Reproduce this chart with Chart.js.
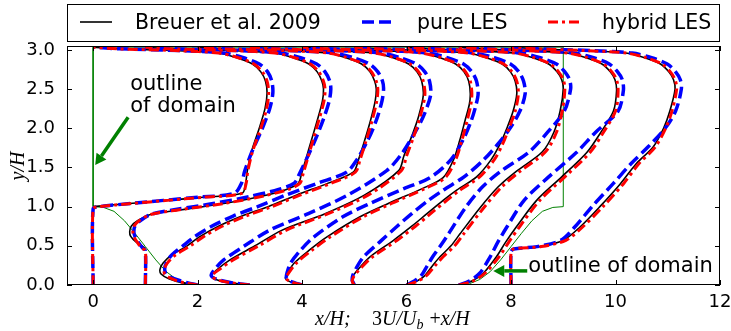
<!DOCTYPE html>
<html>
<head>
<meta charset="utf-8">
<script src="https://cdn.jsdelivr.net/npm/chart.js@4/dist/chart.umd.min.js"></script>
<style>
  html, body { margin: 0; padding: 0; background: #fff; }
  #wrap { width: 731px; height: 331px; }
</style>
</head>
<body>
<div id="wrap"><canvas id="c"></canvas></div>
<script>
// profile stations x/H
const stations = [0, 1, 2, 3, 4, 5, 6, 7, 8];

// y/H levels of each profile
const profileY = [
  [0, 0.97, 1.0, 1.04, 1.08, 1.12, 1.17, 1.3, 1.45, 1.7, 2.0, 2.25, 2.45, 2.6, 2.72, 2.82, 2.9, 2.96, 2.99, 3.015, 3.035],
  [0, 0.44, 0.47, 0.55, 0.62, 0.68, 0.75, 0.82, 0.9, 0.96, 1.04, 1.13, 1.22, 1.3, 1.42, 1.6, 1.85, 2.1, 2.35, 2.5, 2.6, 2.72, 2.82, 2.9, 2.96, 2.99, 3.015, 3.035],
  [0, 0.03, 0.08, 0.14, 0.2, 0.28, 0.38, 0.5, 0.62, 0.75, 0.88, 1.0, 1.15, 1.3, 1.44, 1.6, 1.85, 2.1, 2.35, 2.5, 2.6, 2.72, 2.82, 2.9, 2.96, 2.99, 3.015, 3.035],
  [0, 0.03, 0.07, 0.12, 0.2, 0.32, 0.5, 0.7, 0.91, 1.15, 1.46, 1.65, 1.9, 2.15, 2.42, 2.6, 2.72, 2.82, 2.9, 2.96, 2.99, 3.015, 3.035],
  [0, 0.03, 0.06, 0.09, 0.15, 0.28, 0.45, 0.61, 0.87, 1.04, 1.23, 1.37, 1.6, 1.85, 2.1, 2.3, 2.44, 2.6, 2.72, 2.82, 2.9, 2.96, 2.99, 3.015, 3.035],
  [0, 0.03, 0.06, 0.12, 0.22, 0.36, 0.57, 0.75, 0.91, 1.08, 1.21, 1.38, 1.6, 1.8, 2.0, 2.22, 2.44, 2.6, 2.72, 2.82, 2.9, 2.96, 2.99, 3.015, 3.035],
  [0, 0.05, 0.12, 0.25, 0.36, 0.5, 0.65, 0.98, 1.25, 1.45, 1.7, 1.95, 2.22, 2.5, 2.62, 2.72, 2.82, 2.9, 2.96, 2.99, 3.015, 3.035],
  [0, 0.05, 0.15, 0.36, 0.55, 0.74, 1.08, 1.38, 1.69, 1.95, 2.22, 2.48, 2.62, 2.72, 2.82, 2.9, 2.96, 2.99, 3.015, 3.035],
  [0, 0.42, 0.46, 0.49, 0.57, 0.74, 1.0, 1.29, 1.55, 1.76, 2.0, 2.22, 2.5, 2.62, 2.72, 2.82, 2.9, 2.96, 2.99, 3.015, 3.035]
];

// 3U/Ub + x/H at those levels
const breuerX = [
  [null, null, 0, 0.7, 1.4, 2.1, 2.85, 2.92, 2.95, 3.03, 3.18, 3.29, 3.33, 3.3, 3.21, 3.05, 2.75, 2.38, 1.63, 0.45, 0],
  [null, null, 1.0, 0.82, 0.72, 0.70, 0.73, 0.85, 1.1, 1.7, 2.5, 3.2, 3.7, 3.93, 3.99, 4.07, 4.18, 4.29, 4.39, 4.41, 4.38, 4.29, 4.13, 3.83, 3.46, 2.71, 1.45, 1.0],
  [2.0, 1.7, 1.45, 1.3, 1.28, 1.34, 1.5, 1.8, 2.05, 2.4, 2.85, 3.35, 3.9, 4.5, 4.98, 5.08, 5.2, 5.31, 5.4, 5.42, 5.39, 5.3, 5.14, 4.84, 4.47, 3.72, 2.45, 2.0],
  [3.0, 2.6, 2.35, 2.27, 2.38, 2.62, 3.1, 3.62, 4.44, 5.2, 5.85, 5.95, 6.1, 6.23, 6.32, 6.29, 6.2, 6.04, 5.74, 5.37, 4.62, 3.45, 3.0],
  [4.0, 3.82, 3.72, 3.68, 3.72, 3.85, 4.15, 4.47, 5.11, 5.65, 6.3, 6.7, 6.9, 7.02, 7.12, 7.2, 7.22, 7.19, 7.1, 6.94, 6.64, 6.27, 5.52, 4.45, 4.0],
  [5.0, 4.96, 4.95, 4.98, 5.1, 5.3, 5.75, 6.1, 6.39, 6.7, 6.96, 7.34, 7.62, 7.79, 7.92, 8.04, 8.11, 8.08, 7.99, 7.83, 7.53, 7.16, 6.41, 5.45, 5.0],
  [6.0, 6.2, 6.35, 6.5, 6.64, 6.85, 7.02, 7.4, 7.75, 8.1, 8.6, 8.82, 8.94, 9.0, 8.97, 8.88, 8.72, 8.42, 8.05, 7.3, 6.45, 6.0],
  [7.0, 7.25, 7.47, 7.72, 7.9, 8.1, 8.49, 8.97, 9.45, 9.72, 9.96, 10.02, 9.99, 9.9, 9.74, 9.44, 9.07, 8.32, 7.45, 7.0],
  [null, null, 8.02, 8.55, 9.0, 9.32, 9.7, 10.09, 10.4, 10.72, 10.92, 11.04, 11.14, 11.11, 11.02, 10.86, 10.56, 10.19, 9.44, 8.45, 8.0]
];

const pureX = [
  [0, 0, 0.12, 0.72, 1.35, 2.0, 2.7, 2.84, 2.9, 3.04, 3.24, 3.38, 3.44, 3.42, 3.34, 3.18, 2.88, 2.5, 1.75, 0.5, 0],
  [1, 1, 0.95, 0.86, 0.8, 0.78, 0.8, 0.9, 1.1, 1.55, 2.3, 3.0, 3.55, 3.85, 3.95, 4.08, 4.25, 4.4, 4.52, 4.55, 4.53, 4.44, 4.28, 3.97, 3.6, 2.85, 1.5, 1.0],
  [2.0, 1.8, 1.55, 1.4, 1.37, 1.4, 1.5, 1.72, 1.95, 2.27, 2.68, 3.15, 3.7, 4.3, 4.85, 5.05, 5.26, 5.42, 5.53, 5.56, 5.54, 5.45, 5.29, 4.98, 4.61, 3.86, 2.5, 2.0],
  [3.0, 2.65, 2.38, 2.26, 2.33, 2.5, 2.9, 3.38, 4.12, 4.88, 5.62, 5.88, 6.12, 6.32, 6.46, 6.44, 6.35, 6.19, 5.88, 5.51, 4.76, 3.5, 3.0],
  [4.0, 3.85, 3.74, 3.7, 3.71, 3.78, 3.98, 4.22, 4.78, 5.3, 5.95, 6.45, 6.85, 7.08, 7.24, 7.33, 7.37, 7.34, 7.25, 7.09, 6.78, 6.41, 5.66, 4.5, 4.0],
  [5.0, 4.98, 4.96, 4.97, 5.04, 5.18, 5.52, 5.82, 6.1, 6.42, 6.7, 7.1, 7.48, 7.75, 7.98, 8.17, 8.27, 8.24, 8.15, 7.99, 7.68, 7.31, 6.56, 5.5, 5.0],
  [6.0, 6.15, 6.28, 6.4, 6.5, 6.65, 6.8, 7.12, 7.45, 7.8, 8.35, 8.7, 9.02, 9.14, 9.12, 9.03, 8.87, 8.56, 8.19, 7.44, 6.5, 6.0],
  [7.0, 7.2, 7.4, 7.6, 7.75, 7.92, 8.25, 8.72, 9.25, 9.62, 10.05, 10.15, 10.13, 10.04, 9.88, 9.58, 9.21, 8.46, 7.5, 7.0],
  [8, 8, 8.05, 8.5, 8.95, 9.22, 9.55, 9.95, 10.3, 10.62, 10.95, 11.15, 11.26, 11.24, 11.15, 10.99, 10.69, 10.32, 9.57, 8.5, 8.0]
];

const hybridX = [
  [0, 0, 0.12, 0.75, 1.42, 2.1, 2.85, 2.93, 2.96, 3.05, 3.21, 3.32, 3.36, 3.33, 3.24, 3.08, 2.78, 2.4, 1.65, 0.45, 0],
  [1, 1, 0.93, 0.84, 0.78, 0.76, 0.78, 0.88, 1.1, 1.65, 2.5, 3.22, 3.74, 3.96, 4.02, 4.1, 4.21, 4.32, 4.42, 4.44, 4.41, 4.32, 4.16, 3.86, 3.48, 2.73, 1.45, 1.0],
  [2.0, 1.73, 1.5, 1.37, 1.36, 1.42, 1.57, 1.86, 2.12, 2.47, 2.92, 3.42, 3.97, 4.56, 5.02, 5.11, 5.23, 5.34, 5.43, 5.45, 5.42, 5.33, 5.17, 4.87, 4.49, 3.74, 2.45, 2.0],
  [3.0, 2.62, 2.36, 2.28, 2.42, 2.68, 3.17, 3.7, 4.5, 5.27, 5.9, 6.0, 6.14, 6.26, 6.35, 6.32, 6.23, 6.07, 5.77, 5.39, 4.64, 3.45, 3.0],
  [4.0, 3.83, 3.73, 3.69, 3.74, 3.89, 4.2, 4.53, 5.17, 5.71, 6.35, 6.74, 6.94, 7.06, 7.16, 7.23, 7.25, 7.22, 7.13, 6.97, 6.67, 6.29, 5.54, 4.45, 4.0],
  [5.0, 4.97, 4.96, 5.0, 5.13, 5.35, 5.82, 6.17, 6.46, 6.77, 7.02, 7.4, 7.68, 7.84, 7.96, 8.08, 8.14, 8.11, 8.02, 7.86, 7.56, 7.18, 6.43, 5.45, 5.0],
  [6.0, 6.22, 6.38, 6.55, 6.7, 6.92, 7.09, 7.47, 7.82, 8.17, 8.66, 8.87, 8.98, 9.03, 9.0, 8.91, 8.75, 8.45, 8.07, 7.32, 6.45, 6.0],
  [7.0, 7.27, 7.5, 7.77, 7.96, 8.16, 8.55, 9.03, 9.51, 9.77, 10.0, 10.05, 10.02, 9.93, 9.77, 9.47, 9.09, 8.34, 7.45, 7.0],
  [8, 8, 8.05, 8.58, 9.05, 9.37, 9.76, 10.15, 10.45, 10.76, 10.96, 11.08, 11.17, 11.14, 11.05, 10.89, 10.59, 10.21, 9.46, 8.45, 8.0]
];

// domain outline (hill geometry)
const outlineX = [0, 0, 0.2, 0.4, 0.6, 0.8, 1.0, 1.2, 1.4, 1.6, 1.8, 1.93, 7.07, 7.2, 7.4, 7.6, 7.8, 8.0, 8.2, 8.4, 8.6, 8.8, 9.0, 9.0, 0];
const outlineY = [3.035, 1.0, 0.99, 0.94, 0.82, 0.66, 0.49, 0.32, 0.17, 0.07, 0.015, 0, 0, 0.015, 0.07, 0.17, 0.32, 0.49, 0.66, 0.82, 0.94, 0.99, 1.0, 3.035, 3.035];

const xTicks = [0, 2, 4, 6, 8, 10, 12];
const yTicks = [0, 0.5, 1.0, 1.5, 2.0, 2.5, 3.0];
const legendLabels = ['Breuer et al. 2009', 'pure LES', 'hybrid LES'];

const series = [
  { label: legendLabels[0], values: breuerX, color: '#000000', width: 1.6, dash: [], order: 2 },
  { label: legendLabels[1], values: pureX, color: '#0000ff', width: 3.5, dash: [12, 5], order: 1 },
  { label: legendLabels[2], values: hybridX, color: '#ff0000', width: 3, dash: [10, 4, 3, 4], order: 0 }
];

const datasets = [{
  label: 'outline',
  data: outlineX.map((x, i) => ({ x: x, y: outlineY[i] })),
  borderColor: '#008000',
  borderWidth: 1,
  pointRadius: 0,
  tension: 0,
  order: 3
}];

series.forEach(s => {
  stations.forEach((st, k) => {
    const pts = [];
    profileY[k].forEach((y, i) => {
      const v = s.values[k][i];
      if (v !== null) pts.push({ x: v, y: y });
    });
    datasets.push({
      label: s.label,
      data: pts,
      borderColor: s.color,
      borderWidth: s.width,
      borderDash: s.dash,
      pointRadius: 0,
      tension: 0.3,
      fill: false,
      order: s.order
    });
  });
});

function arrow(ctx, x1, y1, x2, y2) {
  const a = Math.atan2(y2 - y1, x2 - x1);
  const head = 11, hw = 6;
  const bx = x2 - head * Math.cos(a), by = y2 - head * Math.sin(a);
  ctx.strokeStyle = '#008000';
  ctx.fillStyle = '#008000';
  ctx.lineWidth = 3.5;
  ctx.beginPath();
  ctx.moveTo(x1, y1);
  ctx.lineTo(bx, by);
  ctx.stroke();
  ctx.beginPath();
  ctx.moveTo(x2, y2);
  ctx.lineTo(bx + hw * Math.sin(a), by - hw * Math.cos(a));
  ctx.lineTo(bx - hw * Math.sin(a), by + hw * Math.cos(a));
  ctx.closePath();
  ctx.fill();
}

const overlay = {
  id: 'overlay',
  afterDraw(chart) {
    const { ctx, chartArea: a } = chart;
    const sx = chart.scales.x, sy = chart.scales.y;
    ctx.save();
    ctx.setLineDash([]);

    // frame and inward ticks
    ctx.strokeStyle = '#000';
    ctx.lineWidth = 1;
    ctx.strokeRect(a.left + 0.5, a.top + 0.5, a.right - a.left - 1, a.bottom - a.top - 1);
    ctx.beginPath();
    xTicks.forEach(v => {
      const p = Math.round(sx.getPixelForValue(v)) + 0.5;
      ctx.moveTo(p, a.bottom); ctx.lineTo(p, a.bottom - 5);
      ctx.moveTo(p, a.top); ctx.lineTo(p, a.top + 5);
    });
    yTicks.forEach(v => {
      const p = Math.round(sy.getPixelForValue(v)) + 0.5;
      ctx.moveTo(a.left, p); ctx.lineTo(a.left + 5, p);
      ctx.moveTo(a.right, p); ctx.lineTo(a.right - 5, p);
    });
    ctx.stroke();

    // legend box
    ctx.strokeRect(a.left + 0.5, 4.5, a.right - a.left - 1, 37);
    const entries = [
      { s: series[0], x0: 80, tx: 135 },
      { s: series[1], x0: 362, tx: 417 },
      { s: series[2], x0: 548, tx: 602 }
    ];
    ctx.font = '20.5px "DejaVu Sans"';
    ctx.textBaseline = 'alphabetic';
    ctx.textAlign = 'left';
    entries.forEach(e => {
      ctx.strokeStyle = e.s.color;
      ctx.lineWidth = e.s.width;
      ctx.setLineDash(e.s.dash);
      ctx.beginPath();
      ctx.moveTo(e.x0, 22);
      ctx.lineTo(e.x0 + 32, 22);
      ctx.stroke();
      ctx.setLineDash([]);
      ctx.fillStyle = '#000';
      ctx.fillText(e.s.label, e.tx, 28.5);
    });

    // annotations
    ctx.fillStyle = '#000';
    ctx.font = '21px "DejaVu Sans"';
    ctx.fillText('outline', sx.getPixelForValue(0.71), sy.getPixelForValue(2.49));
    ctx.fillText('of domain', sx.getPixelForValue(0.71), sy.getPixelForValue(2.21));
    ctx.fillText('outline of domain', sx.getPixelForValue(8.33), sy.getPixelForValue(0.166));
    arrow(ctx, sx.getPixelForValue(0.67), sy.getPixelForValue(2.14), sx.getPixelForValue(0.04), sy.getPixelForValue(1.53));
    arrow(ctx, sx.getPixelForValue(8.31), sy.getPixelForValue(0.18), sx.getPixelForValue(7.66), sy.getPixelForValue(0.18));

    // axis titles
    ctx.fillStyle = '#000';
    ctx.font = 'italic 20px "Liberation Serif"';
    ctx.textAlign = 'left';
    ctx.fillText('x/H;', 315, 325);
    let px = 372;
    ctx.font = '20px "Liberation Serif"';
    ctx.fillText('3', px, 325); px += ctx.measureText('3').width;
    ctx.font = 'italic 20px "Liberation Serif"';
    ctx.fillText('U/U', px, 325); px += ctx.measureText('U/U').width;
    ctx.font = 'italic 14px "Liberation Serif"';
    ctx.fillText('b', px, 329); px += ctx.measureText('b').width + 6;
    ctx.font = '20px "Liberation Serif"';
    ctx.fillText('+', px, 325); px += ctx.measureText('+').width;
    ctx.font = 'italic 20px "Liberation Serif"';
    ctx.fillText('x/H', px, 325);

    ctx.save();
    ctx.translate(24, 166);
    ctx.rotate(-Math.PI / 2);
    ctx.textAlign = 'center';
    ctx.font = 'italic 20px "Liberation Serif"';
    ctx.fillText('y/H', 0, 0);
    ctx.restore();

    ctx.restore();
  }
};

new Chart(document.getElementById('c'), {
  type: 'line',
  data: { datasets: datasets },
  options: {
    responsive: true,
    maintainAspectRatio: false,
    animation: false,
    devicePixelRatio: 1,
    layout: { padding: { top: 46, right: 11, left: 0, bottom: 0 } },
    plugins: { legend: { display: false }, tooltip: { enabled: false } },
    elements: { line: { capBezierPoints: true } },
    scales: {
      x: {
        type: 'linear',
        min: -0.5,
        max: 12,
        grid: { display: false },
        border: { display: false },
        afterBuildTicks: s => { s.ticks = xTicks.map(v => ({ value: v })); },
        afterFit: s => { s.height = 46; },
        ticks: { color: '#000', padding: -1, font: { family: 'DejaVu Sans', size: 18 }, maxRotation: 0, callback: v => String(v) }
      },
      y: {
        type: 'linear',
        min: 0,
        max: 3.05,
        grid: { display: false },
        border: { display: false },
        afterBuildTicks: s => { s.ticks = yTicks.map(v => ({ value: v })); },
        afterFit: s => { s.width = 67; },
        ticks: { color: '#000', padding: 4, font: { family: 'DejaVu Sans', size: 18 }, callback: v => v.toFixed(1) }
      }
    }
  },
  plugins: [overlay]
});
</script>
</body>
</html>
